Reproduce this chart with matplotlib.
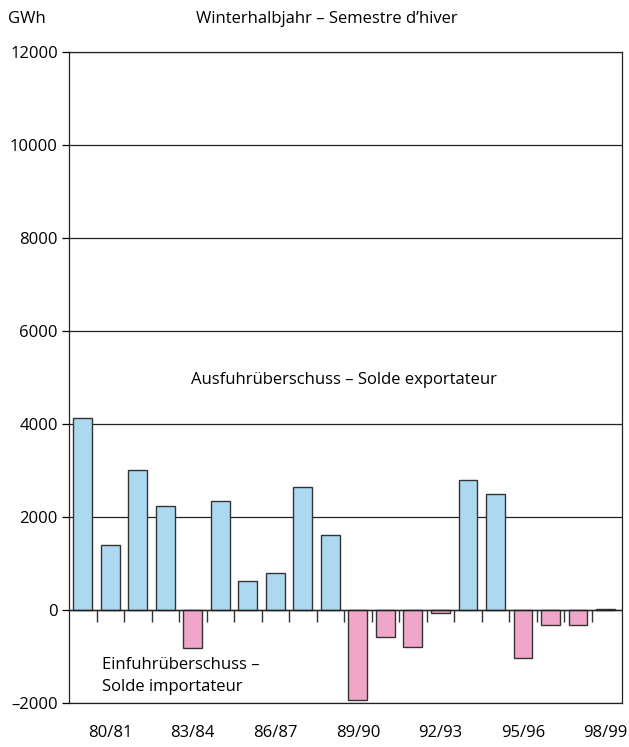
import matplotlib.pyplot as plt
import numpy as np

plt.rcParams['font.family'] = ['Open Sans', 'DejaVu Sans']

# Winterhalbjahr-Saldo in GWh, 79/80 bis 98/99
seasons = ['79/80', '80/81', '81/82', '82/83', '83/84', '84/85', '85/86', '86/87',
           '87/88', '88/89', '89/90', '90/91', '91/92', '92/93', '93/94', '94/95',
           '95/96', '96/97', '97/98', '98/99']
saldo = [4130, 1400, 3020, 2230, -810, 2350, 630, 800, 2650, 1620,
         -1930, -590, -800, -60, 2800, 2500, -1030, -320, -320, 20]
shown_labels = ['80/81', '83/84', '86/87', '89/90', '92/93', '95/96', '98/99']

x = np.arange(len(seasons))
colors = ['#acd9ef' if v >= 0 else '#f0a6c8' for v in saldo]

fig = plt.figure(figsize=(6.29, 7.47), dpi=100)
ax = fig.add_axes([0.1097, 0.0589, 0.879, 0.8715])

ax.bar(x, saldo, width=0.68, color=colors, edgecolor='#333333', linewidth=1.0, zorder=3)

ax.set_xlim(-0.5, 19.6)
ax.set_ylim(-2000, 12000)
ax.set_yticks(range(-2000, 12001, 2000))
ax.set_yticklabels([f'{v}'.replace('-', '\u2013') for v in range(-2000, 12001, 2000)])
ax.yaxis.grid(True, color='#222222', linewidth=0.9, zorder=1)
ax.axhline(0, color='#222222', linewidth=1.0, zorder=4)

# Teilstriche zwischen den Balken an der Nulllinie
ax.vlines(x[:-1] + 0.5, -250, 0, color='#333333', linewidth=1.0, zorder=4)

ax.set_xticks([seasons.index(s) for s in shown_labels])
ax.set_xticklabels(shown_labels)
ax.tick_params(axis='x', length=0, pad=16, labelsize=12)
ax.tick_params(axis='y', length=5, width=0.9, labelsize=12, pad=3)
for sp in ax.spines.values():
    sp.set_color('#222222')
    sp.set_linewidth(0.9)

ax.text(9.5, 4950, 'Ausfuhrüberschuss – Solde exportateur', ha='center', va='center', fontsize=12)
ax.text(0.7, -1420, 'Einfuhrüberschuss –\nSolde importateur', ha='left', va='center',
        fontsize=12, linespacing=1.5)

fig.text(0.52, 0.975, 'Winterhalbjahr – Semestre d’hiver', ha='center', va='center', fontsize=12)
fig.text(0.012, 0.975, 'GWh', ha='left', va='center', fontsize=12)

fig.savefig('out.png', dpi=100)
